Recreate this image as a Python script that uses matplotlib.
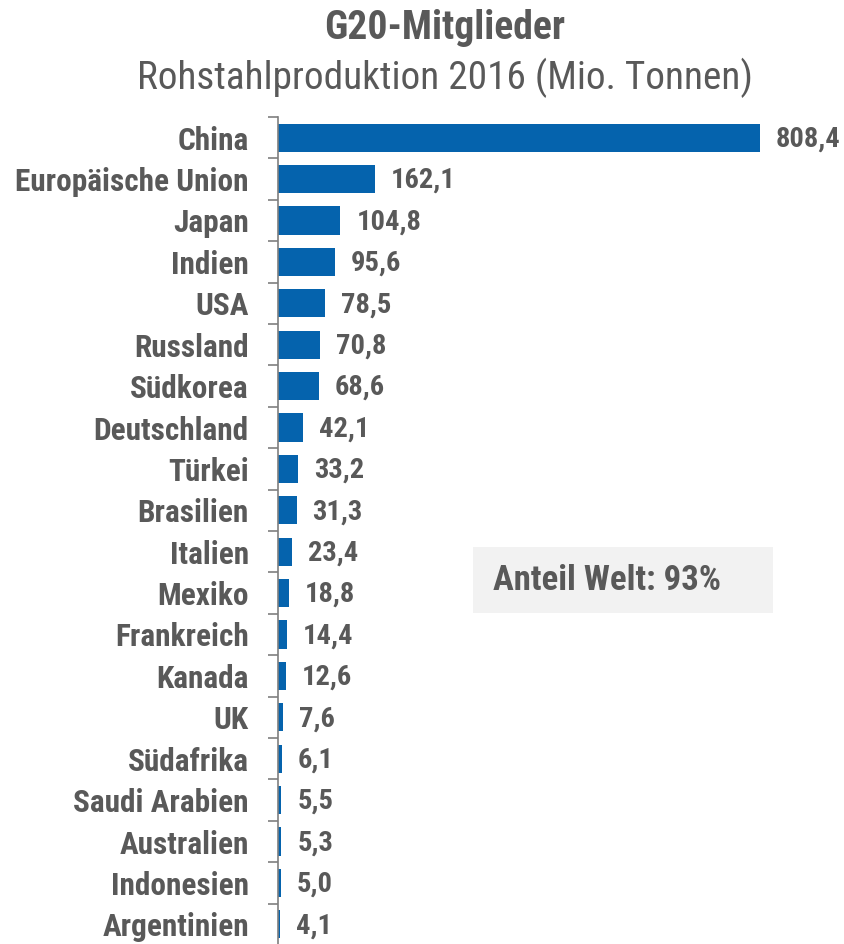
import matplotlib.pyplot as plt
from matplotlib.patches import Rectangle

# data
countries = ['China', 'Europäische Union', 'Japan', 'Indien', 'USA', 'Russland',
             'Südkorea', 'Deutschland', 'Türkei', 'Brasilien', 'Italien', 'Mexiko',
             'Frankreich', 'Kanada', 'UK', 'Südafrika', 'Saudi Arabien',
             'Australien', 'Indonesien', 'Argentinien']
production = [808.4, 162.1, 104.8, 95.6, 78.5, 70.8, 68.6, 42.1, 33.2, 31.3,
              23.4, 18.8, 14.4, 12.6, 7.6, 6.1, 5.5, 5.3, 5.0, 4.1]

plt.rcParams['font.family'] = ['Roboto Condensed', 'DejaVu Sans']
grey = '#595959'
blue = '#0563AD'

W, H = 844, 944
fig = plt.figure(figsize=(W / 100, H / 100), dpi=100)
ax = fig.add_axes([278 / W, -1 / H, 566 / W, 828 / H])

pos = list(range(len(countries)))
ax.barh(pos, production, height=0.68, color=blue)
ax.set_xlim(0, 950)
ax.set_ylim(len(countries) - 0.5, -0.5)

for y, v in zip(pos, production):
    ax.annotate(f'{v:.1f}'.replace('.', ','), (v, y), xytext=(11.5, -1),
                textcoords='offset points', ha='left', va='center',
                fontsize=20.5, fontweight='bold', color=grey)

# axis styling
for s in ['top', 'right', 'bottom']:
    ax.spines[s].set_visible(False)
ax.spines['left'].set_color('#7f7f7f')
ax.spines['left'].set_linewidth(1.2)
ax.set_xticks([])
ax.set_yticks(pos)
ax.set_yticklabels(countries, fontsize=22.5, fontweight='bold', color=grey)
ax.tick_params(axis='y', which='major', length=0, pad=21)
ax.set_yticks([p - 0.5 for p in pos], minor=True)
ax.tick_params(axis='y', which='minor', length=7, width=1.2, color='#7f7f7f')

# titles
fig.text(445 / W, 1 - 28 / H, 'G20-Mitglieder', ha='center', va='center',
         fontsize=28.5, fontweight='bold', color=grey)
fig.text(445 / W, 1 - 78 / H, 'Rohstahlproduktion 2016 (Mio. Tonnen)',
         ha='center', va='center', fontsize=28.3, color=grey)

# share box
fig.patches.append(Rectangle((473 / W, 1 - 613 / H), 300 / W, 66 / H,
                             transform=fig.transFigure, facecolor='#f2f2f2',
                             edgecolor='none'))
fig.text(493 / W, 1 - 581 / H, 'Anteil Welt: 93%', ha='left', va='center',
         fontsize=25, fontweight='bold', color=grey)

fig.savefig('out.png', dpi=100)
